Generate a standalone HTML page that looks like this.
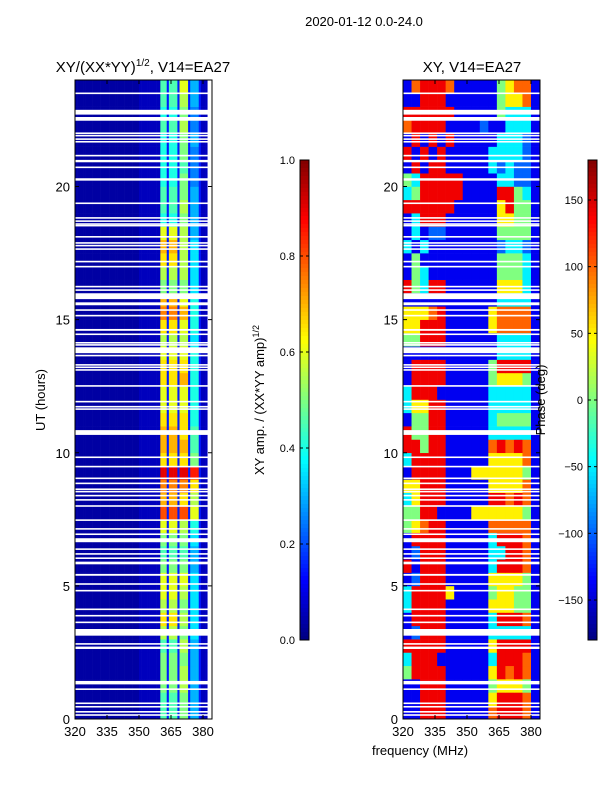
<!DOCTYPE html>
<html><head><meta charset="utf-8"><style>
html,body{margin:0;padding:0;background:#fff;}
svg text{font-family:"Liberation Sans",sans-serif;fill:#000;}
</style></head><body>
<svg id="fig" width="600" height="800" xmlns="http://www.w3.org/2000/svg">
<text x="364" y="26" font-size="13" text-anchor="middle">2020-01-12 0.0-24.0</text>
<text x="143" y="72" font-size="15" text-anchor="middle">XY/(XX*YY)<tspan font-size="10" dy="-6">1/2</tspan><tspan dy="6">, V14=EA27</tspan></text>
<text x="472" y="72" font-size="15" text-anchor="middle">XY, V14=EA27</text>
<text x="45" y="400" font-size="13" text-anchor="middle" transform="rotate(-90 45 400)">UT (hours)</text>
<text x="420" y="755" font-size="13" text-anchor="middle">frequency (MHz)</text>
<text x="264" y="400" font-size="13" text-anchor="middle" transform="rotate(-90 264 400)">XY amp. / (XX*YY amp)<tspan font-size="9" dy="-5">1/2</tspan></text>
<g id="left"></g>
<g id="right"></g>
<g id="cb1"></g>
<g id="cb2"></g>
<text x="545" y="400" font-size="13" text-anchor="middle" transform="rotate(-90 545 400)">Phase (deg)</text>
</svg>
<script>
// ---- data ----
const hourTicks = [0,5,10,15,20];
const freqTicks = [320,335,350,365,380];
const ampTicks = [0.0,0.2,0.4,0.6,0.8,1.0];
const phaseTicks = [-150,-100,-50,0,50,100,150];
// stripe index per 1 MHz channel 320..383 ('.'=background,'b'=bright background,'s'=separator, 0-3 stripes)
const chanStripe = "..............................bbbbbbbbbb000s0000s1111s3333sbbb";
// stripe amplitude levels per half-hour row, row 0 = 0.0-0.5 h
const stripeLevels = [
[.45,.5,.35,.3],[.45,.5,.35,.3],[.5,.55,.35,.3],[.5,.55,.35,.3],[.5,.5,.35,.3],[.45,.55,.4,.3],
[.55,.5,.4,.35],[.65,.55,.4,.35],[.55,.5,.4,.35],[.6,.55,.4,.35],[.6,.6,.4,.35],[.5,.5,.35,.3],
[.45,.45,.35,.3],[.5,.5,.4,.35],[.6,.55,.45,.4],[.8,.8,.65,.6],[.7,.65,.6,.55],[.75,.75,.7,.65],
[.9,.9,.85,.85],[.65,.65,.55,.5],[.7,.7,.5,.45],[.7,.65,.5,.45],[.65,.65,.45,.4],[.6,.6,.4,.4],
[.6,.6,.45,.4],[.65,.7,.45,.4],[.65,.65,.45,.4],[.6,.6,.4,.4],[.55,.55,.4,.35],[.65,.6,.45,.4],
[.75,.7,.45,.4],[.7,.6,.45,.4],[.5,.5,.4,.35],[.55,.55,.45,.35],[.65,.55,.45,.35],[.7,.55,.4,.35],
[.6,.55,.4,.3],[.4,.5,.3,.3],[.45,.55,.35,.3],[.45,.5,.35,.3],[.4,.5,.3,.25],[.4,.45,.3,.25],
[.4,.5,.3,.25],[.4,.5,.3,.3],[.45,.55,.3,.25],[.4,.5,.3,.25],[.45,.55,.35,.3],[.45,.6,.35,.3]];
const bgLevel = 0.035, brightBgLevel = 0.06, sepLevel = 0.15;
// phase level codes (0..8) per half-hour row (row 0 = 0.0-0.5h), 16 channels of 4 MHz
const phaseCodeValues = [-170,-140,-100,-50,0,50,100,140,170];
const phaseRows = [
"1177711111677761","1177711111577761","1177711111455541","4777711111576761","3777111111377761",
"7777711111577771","1277711111333331","1777711111377761","3777711111555441","3777751111455441",
"1277711111555541","7177711111377761","1277711111337761","1777711111377761","4567711111666661",
"4477111155555541","3577711111776761","5577711111555561","1777711155555541","3777711111555561",
"7747711111676761","7447711111333331","1447711111344441","3557711111333331","3777111111333331",
"1777711111455541","1777711111477771","1111111111133331","4477711111133331","5577711111566661",
"5556711111566661","1111111111133331","7437711111155531","1431111111144431","1411111111144431",
"3131111111123321","1312211111144441","1377711111155441","7777771111157441","3477777111177431",
"4377777111133221","1717711111323221","7171711111333321","1717171111133321","6777711112113331",
"7777771111143331","1177711111145561","1677761111145661"];
// flagged (white) time ranges in hours
const gaps = [[0.12,0.18],[0.24,0.30],[0.43,0.49],[0.56,0.62],[1.09,1.15],[1.30,1.43],[2.63,2.72],[2.79,2.85],
[3.13,3.38],[3.60,3.66],[3.85,3.91],[4.09,4.15],[4.79,4.85],[5.04,5.10],[5.38,5.45],[5.81,5.91],[6.01,6.07],
[6.17,6.23],[6.35,6.41],[6.64,6.79],[6.91,6.97],[7.11,7.17],[7.44,7.50],[7.97,8.03],[8.20,8.26],[8.36,8.42],
[8.51,8.57],[8.60,8.66],[8.82,8.88],[9.01,9.07],[9.45,9.51],[9.80,9.86],[10.67,10.85],[11.61,11.67],
[11.70,11.76],[11.89,11.95],[12.48,12.54],[13.08,13.14],[13.18,13.24],[13.27,13.33],[13.62,13.68],
[13.74,13.96],[14.02,14.08],[14.10,14.16],[14.42,14.48],[14.58,14.65],[15.12,15.18],[15.33,15.39],
[15.54,15.65],[15.77,15.99],[16.08,16.14],[16.21,16.27],[16.96,17.02],[17.15,17.21],[17.62,17.68],
[17.75,17.81],[17.85,17.91],[18.08,18.14],[18.50,18.56],[18.56,18.62],[18.67,18.73],[18.79,18.85],
[19.34,19.40],[20.22,20.31],[20.69,20.75],[20.91,21.00],[21.13,21.19],[21.65,21.71],[21.75,21.81],
[21.88,21.94],[21.97,22.03],[22.47,22.61],[22.70,22.88],[23.47,23.53]];

// ---- helpers ----
const NS="http://www.w3.org/2000/svg";
function mk(tag,attrs,parent){const e=document.createElementNS(NS,tag);for(const k in attrs)e.setAttribute(k,attrs[k]);parent.appendChild(e);return e;}
function jet(t){t=Math.max(0,Math.min(1,t));
 const r=Math.max(0,Math.min(1,Math.min(4*t-1.5,-4*t+4.5)));
 const g=Math.max(0,Math.min(1,Math.min(4*t-0.5,-4*t+3.5)));
 const b=Math.max(0,Math.min(1,Math.min(4*t+0.5,-4*t+2.5)));
 return `rgb(${Math.round(r*255)},${Math.round(g*255)},${Math.round(b*255)})`;}
const Y0=719,Y1=80,H0=0,H1=24;
function yScale(h){return Y0-(h-H0)/(H1-H0)*(Y0-Y1);}
const F0=320,pxPerMHz=128/60;
function xScale(left,f){return left+(f-F0)*pxPerMHz;}
const panelW=137;

function axes(g,left,pfx){
 mk('rect',{x:left,y:Y1,width:panelW,height:Y0-Y1,fill:'none',stroke:'#000','stroke-width':1},g);
 hourTicks.forEach(h=>{const y=yScale(h);
  const t=mk('text',{x:left-5,y:y+5,'font-size':13,'text-anchor':'end'},g);t.textContent=h;
  
  
  mk('line',{x1:left,x2:left+4,y1:y,y2:y,stroke:'#000'},g);
  mk('line',{x1:left+panelW,x2:left+panelW-4,y1:y,y2:y,stroke:'#000'},g);});
 freqTicks.forEach(f=>{const x=xScale(left,f);
  const t=mk('text',{x:x,y:Y0+17,'font-size':13,'text-anchor':'middle'},g);t.textContent=f;
  
  
  mk('line',{x1:x,x2:x,y1:Y0,y2:Y0-4,stroke:'#000'},g);
  mk('line',{x1:x,x2:x,y1:Y1,y2:Y1+4,stroke:'#000'},g);});
}
function drawGaps(g,left){
 gaps.forEach(gp=>{const r=mk('rect',{x:left,y:yScale(gp[1]),width:panelW,height:yScale(gp[0])-yScale(gp[1]),fill:'#fff'},g);
  
  });
}

// ---- amplitude panel ----
const L=document.getElementById('left');
stripeLevels.forEach((lv,ri)=>{
 const yTop=yScale((ri+1)*0.5), yBot=yScale(ri*0.5);
 for(let c=0;c<chanStripe.length;c++){
  const s=chanStripe[c];
  let v = s==='.'?bgLevel : s==='b'?brightBgLevel : s==='s'?sepLevel : lv[+s];
  const x0=xScale(75,F0+c), x1=Math.min(xScale(75,F0+c+1),75+panelW);
  const r=mk('rect',{x:x0,y:yTop,width:x1-x0+0.3,height:yBot-yTop+0.3,fill:jet(v)},L);
  
  
 }
});
drawGaps(L,75); axes(L,75,'left');

// ---- phase panel ----
const R=document.getElementById('right');
phaseRows.forEach((row,ri)=>{
 const yTop=yScale((ri+1)*0.5), yBot=yScale(ri*0.5);
 for(let c=0;c<row.length;c++){
  const v=phaseCodeValues[+row[c]];
  const x0=xScale(403,F0+c*4), x1=Math.min(xScale(403,F0+c*4+4),403+panelW);
  const r=mk('rect',{x:x0,y:yTop,width:x1-x0+0.3,height:yBot-yTop+0.3,fill:jet((v+180)/360)},R);
  
  
 }
});
drawGaps(R,403); axes(R,403,'right');

// ---- colorbars ----
function colorbar(g,x,pos,ticks,fmt,lo,hi,pfx){
 const top=160,bot=640,n=120;
 for(let i=0;i<n;i++){mk('rect',{x:x,y:top+(bot-top)*i/n,width:9,height:(bot-top)/n+0.5,fill:jet(1-(i+0.5)/n)},g);}
 mk('rect',{x:x,y:top,width:9,height:bot-top,fill:'none',stroke:'#000'},g);
 ticks.forEach(tv=>{const y=bot-(tv-lo)/(hi-lo)*(bot-top);
  mk('line',{x1:x,x2:x+3,y1:y,y2:y,stroke:'#000'},g);
  mk('line',{x1:x+9,x2:x+6,y1:y,y2:y,stroke:'#000'},g);
  const t=mk('text',{x:x-5,y:y+4,'font-size':11,'text-anchor':'end'},g);t.textContent=fmt(tv);
  
  });
}
colorbar(document.getElementById('cb1'),300,0,ampTicks,v=>v.toFixed(1),0,1,'amp-colorbar');
colorbar(document.getElementById('cb2'),588,0,phaseTicks,v=>v<0?'\u2212'+(-v):''+v,-180,180,'phase-colorbar');
</script>
</body></html>
